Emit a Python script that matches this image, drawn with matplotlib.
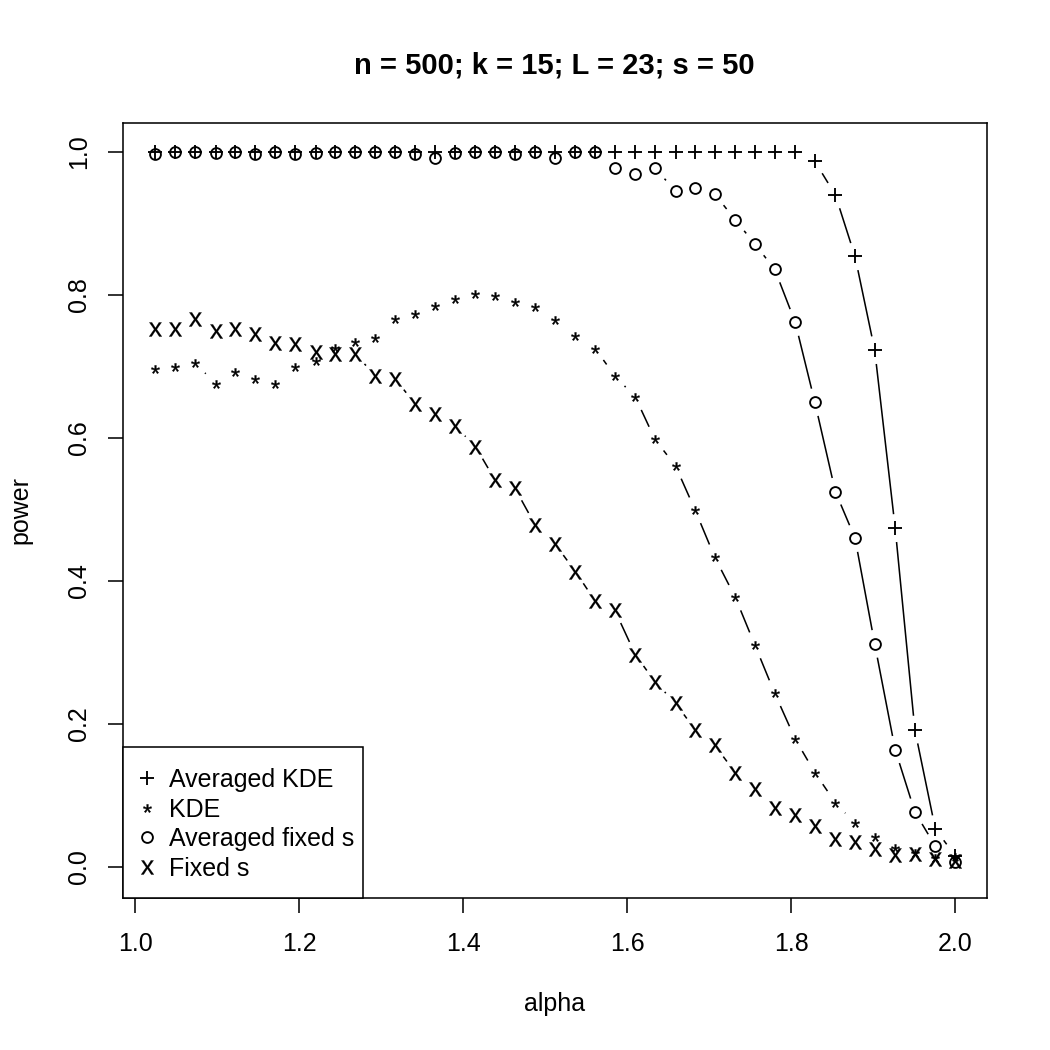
import matplotlib
matplotlib.use("Agg")
import matplotlib.pyplot as plt
import numpy as np
from matplotlib.patches import Rectangle

plt.rcParams["font.family"] = ["Liberation Sans", "DejaVu Sans"]
# point symbols are glyphs of the text font, as R's pch characters are
plt.rcParams["mathtext.fontset"] = "custom"
plt.rcParams["mathtext.rm"] = "Liberation Sans"
plt.rcParams["mathtext.sf"] = "Liberation Sans"

# alpha grid (1 + k/41, k = 1..41)
alpha = [1.024, 1.049, 1.073, 1.098, 1.122, 1.146, 1.171, 1.195, 1.220, 1.244,
         1.268, 1.293, 1.317, 1.341, 1.366, 1.390, 1.415, 1.439, 1.463, 1.488,
         1.512, 1.537, 1.561, 1.585, 1.610, 1.634, 1.659, 1.683, 1.707, 1.732,
         1.756, 1.780, 1.805, 1.829, 1.854, 1.878, 1.902, 1.927, 1.951, 1.976,
         2.000]

averaged_kde = [1.0] * 33 + [0.987, 0.940, 0.854, 0.723, 0.474, 0.192, 0.053, 0.016]

kde = [0.697, 0.700, 0.705, 0.676, 0.692, 0.683, 0.675, 0.699, 0.708, 0.726,
       0.734, 0.740, 0.766, 0.774, 0.785, 0.795, 0.802, 0.798, 0.790, 0.783,
       0.765, 0.743, 0.725, 0.687, 0.657, 0.598, 0.561, 0.499, 0.433, 0.377,
       0.310, 0.243, 0.179, 0.132, 0.090, 0.061, 0.042, 0.026, 0.019, 0.013,
       0.014]

averaged_fixed_s = [0.997, 1.000, 1.000, 0.998, 1.000, 0.997, 1.000, 0.997, 0.998, 1.000,
                    1.000, 1.000, 1.000, 0.997, 0.991, 0.998, 1.000, 1.000, 0.997, 1.000,
                    0.991, 1.000, 1.000, 0.977, 0.969, 0.977, 0.946, 0.949, 0.941, 0.905,
                    0.871, 0.836, 0.762, 0.650, 0.525, 0.460, 0.312, 0.164, 0.077, 0.029,
                    0.007]

fixed_s = [0.752, 0.753, 0.766, 0.749, 0.753, 0.746, 0.733, 0.732, 0.720, 0.717,
           0.718, 0.687, 0.683, 0.648, 0.633, 0.617, 0.588, 0.541, 0.530, 0.478,
           0.452, 0.413, 0.372, 0.359, 0.297, 0.259, 0.229, 0.192, 0.170, 0.132,
           0.109, 0.082, 0.072, 0.058, 0.039, 0.035, 0.025, 0.017, 0.018, 0.011,
           0.009]

labels = ["Averaged KDE", "KDE", "Averaged fixed s", "Fixed s"]
series = [averaged_kde, kde, averaged_fixed_s, fixed_s]
markers = [
    dict(marker="+", ms=6.3, mew=0.9),
    dict(marker=r"$\mathrm{*}$", ms=4.0, mew=0.2),
    dict(marker="o", ms=5.2, mew=0.9, mfc="none"),
    dict(marker=r"$\mathsf{x}$", ms=6.8, mew=0.1),
]

W = H = 1050
fig = plt.figure(figsize=(7, 7), dpi=150)
ax = fig.add_axes([123 / W, 1 - 898 / H, 864 / W, 775 / H])
ax.set_xlim(0.985, 2.039)
ax.set_ylim(-0.0434, 1.0406)


def gapped_line(ax, x, y, gap_px=14.0):
    """R-style type='b' line: segments stop short of each point."""
    pts = ax.transData.transform(np.column_stack([x, y]))
    inv = ax.transData.inverted()
    for p0, p1 in zip(pts[:-1], pts[1:]):
        d = p1 - p0
        length = np.hypot(*d)
        if length <= 2 * gap_px:
            continue
        u = d / length
        a = inv.transform(p0 + u * gap_px)
        b = inv.transform(p1 - u * gap_px)
        ax.plot([a[0], b[0]], [a[1], b[1]], color="black", lw=0.75,
                solid_capstyle="butt")


for y, mk in zip(series, markers):
    gapped_line(ax, alpha, y)
    ax.plot(alpha, y, ls="none", color="black", **mk)

ax.set_xticks([1.0, 1.2, 1.4, 1.6, 1.8, 2.0])
ax.set_yticks([0.0, 0.2, 0.4, 0.6, 0.8, 1.0])
ax.set_xticklabels(["1.0", "1.2", "1.4", "1.6", "1.8", "2.0"])
ax.set_yticklabels(["0.0", "0.2", "0.4", "0.6", "0.8", "1.0"], rotation=90,
                   va="center")
ax.tick_params(axis="both", direction="out", length=7.2, width=0.75,
               labelsize=12, color="black")
ax.tick_params(axis="x", pad=9.0)
ax.tick_params(axis="y", pad=8.0)
for sp in ax.spines.values():
    sp.set_linewidth(0.75)

# legend box in the lower-left corner, R style
lx0, lw_, lh = 0.0, 240 / 864, 151 / 775
ax.add_patch(Rectangle((lx0, 0.0), lw_, lh, transform=ax.transAxes,
                       facecolor="white", edgecolor="black", lw=0.75,
                       zorder=5, clip_on=False))
rows = [(898 - r) / 775 for r in (778, 807.7, 837.3, 867)]
for ry, lab, mk in zip(rows, labels, markers):
    ax.plot([24 / 864], [ry], ls="none", color="black", transform=ax.transAxes,
            zorder=6, clip_on=False, **mk)
    ax.text(46 / 864, ry - 9 / 775, lab, transform=ax.transAxes,
            fontsize=12, ha="left", va="baseline", zorder=6)

fig.text(554 / W, 1 - 73 / H, "n = 500; k = 15; L = 23; s = 50",
         ha="center", va="baseline", fontsize=14, fontweight="bold")
fig.text(555 / W, 1 - 1011 / H, "alpha", ha="center", va="baseline", fontsize=12)
fig.text(27 / W, 1 - 510 / H, "power", ha="center", va="baseline", fontsize=12,
         rotation=90, rotation_mode="anchor")

fig.savefig("out.png", dpi=150)
